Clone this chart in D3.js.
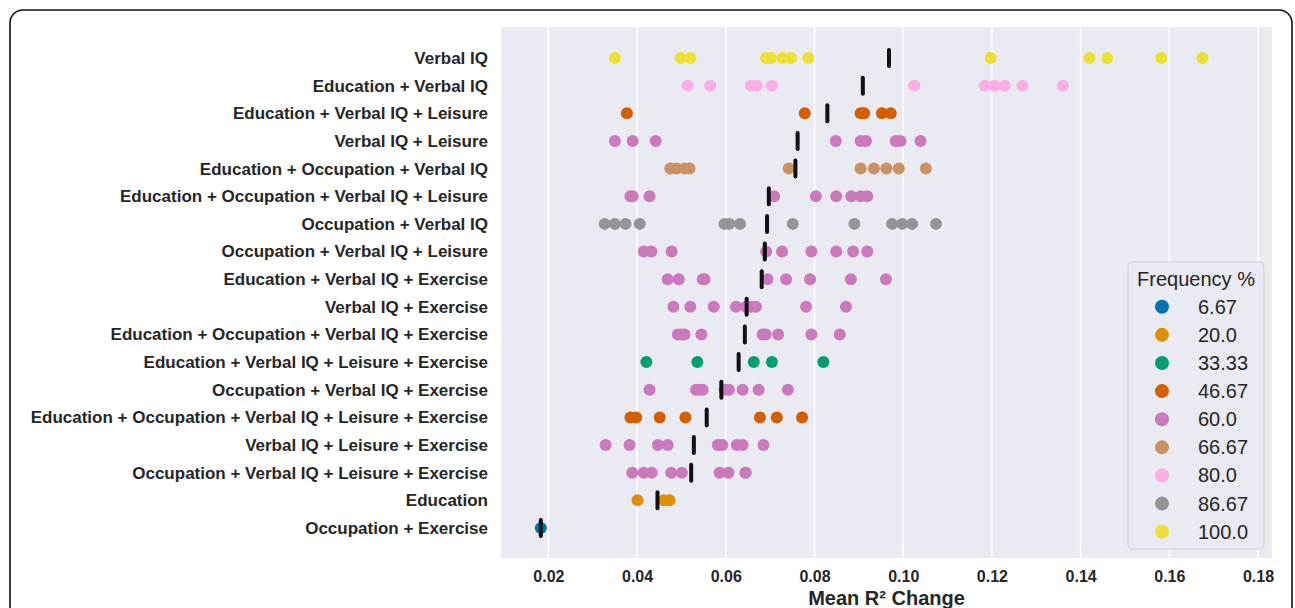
<!DOCTYPE html>
<html><head><meta charset="utf-8">
<script src="https://cdn.jsdelivr.net/npm/d3@7"></script>
<style>body{margin:0;background:#fff}svg{display:block}text{font-family:"Liberation Sans",Arial,sans-serif}</style>
</head><body><svg id="c" width="1295" height="608"></svg>
<script>
const categories = ["Verbal IQ","Education + Verbal IQ","Education + Verbal IQ + Leisure","Verbal IQ + Leisure","Education + Occupation + Verbal IQ","Education + Occupation + Verbal IQ + Leisure","Occupation + Verbal IQ","Occupation + Verbal IQ + Leisure","Education + Verbal IQ + Exercise","Verbal IQ + Exercise","Education + Occupation + Verbal IQ + Exercise","Education + Verbal IQ + Leisure + Exercise","Occupation + Verbal IQ + Exercise","Education + Occupation + Verbal IQ + Leisure + Exercise","Verbal IQ + Leisure + Exercise","Occupation + Verbal IQ + Leisure + Exercise","Education","Occupation + Exercise"];
const frequency = ["100.0","80.0","46.67","60.0","66.67","60.0","86.67","60.0","60.0","60.0","60.0","33.33","60.0","46.67","60.0","60.0","20.0","6.67"];
const values = [
 [0.0350,0.0498,0.0520,0.0691,0.0702,0.0728,0.0747,0.0786,0.1197,0.1420,0.1460,0.1582,0.1675],
 [0.0514,0.0565,0.0657,0.0670,0.0704,0.1025,0.1184,0.1206,0.1229,0.1269,0.1360],
 [0.0377,0.0778,0.0904,0.0908,0.0912,0.0952,0.0972],
 [0.0350,0.0390,0.0442,0.0848,0.0904,0.0916,0.0983,0.0994,0.1039],
 [0.0475,0.0489,0.0507,0.0518,0.0742,0.0904,0.0934,0.0962,0.0990,0.1051],
 [0.0385,0.0390,0.0428,0.0709,0.0803,0.0849,0.0883,0.0904,0.0919],
 [0.0327,0.0350,0.0374,0.0406,0.0597,0.0608,0.0632,0.0751,0.0890,0.0975,0.0998,0.1020,0.1074],
 [0.0415,0.0432,0.0478,0.0691,0.0727,0.0793,0.0849,0.0887,0.0919],
 [0.0469,0.0494,0.0548,0.0552,0.0694,0.0736,0.0790,0.0882,0.0961],
 [0.0482,0.0520,0.0573,0.0623,0.0646,0.0657,0.0668,0.0781,0.0871],
 [0.0492,0.0500,0.0507,0.0545,0.0683,0.0690,0.0718,0.0793,0.0857],
 [0.0421,0.0536,0.0663,0.0704,0.0820],
 [0.0428,0.0533,0.0540,0.0548,0.0597,0.0607,0.0638,0.0674,0.0740],
 [0.0385,0.0398,0.0451,0.0509,0.0677,0.0715,0.0772],
 [0.0329,0.0383,0.0447,0.0469,0.0582,0.0592,0.0625,0.0638,0.0685],
 [0.0389,0.0415,0.0433,0.0477,0.0501,0.0586,0.0606,0.0644,0.0645],
 [0.0401,0.0460,0.0473],
 [0.0183]
];
const means = [0.0968,0.0909,0.0829,0.0762,0.0757,0.0697,0.0693,0.0688,0.0681,0.0647,0.0643,0.0629,0.0590,0.0557,0.0528,0.0522,0.0446,0.0183];
const legendLabels = ["6.67","20.0","33.33","46.67","60.0","66.67","80.0","86.67","100.0"];
const legendColors = ["#0173b2","#de8f05","#029e73","#d55e00","#cc78bc","#ca9161","#fbafe4","#949494","#ece133"];
const xTicks = [0.02,0.04,0.06,0.08,0.10,0.12,0.14,0.16,0.18];

const svg = d3.select("#c");
const L=501, R=1272, T=27, B=558;
svg.append("rect").attr("x",10).attr("y",10).attr("width",1282).attr("height",640).attr("rx",13)
  .attr("fill","#fff").attr("stroke","#111").attr("stroke-width",1.6);
svg.append("rect").attr("x",L).attr("y",T).attr("width",R-L).attr("height",B-T).attr("fill","#eaeaf2");

const x = d3.scaleLinear().domain([0.00932,0.18315]).range([L,R]);
const y = d3.scalePoint().domain(categories).range([T+31,B-30]);
const color = d3.scaleOrdinal().domain(legendLabels).range(legendColors);

svg.append("g").selectAll("line").data(xTicks).join("line")
  .attr("x1",d=>x(d)).attr("x2",d=>x(d)).attr("y1",T).attr("y2",B)
  .attr("stroke","#fff").attr("stroke-width",1.6);

const xa = svg.append("g").attr("transform",`translate(0,${B})`)
  .call(d3.axisBottom(x).tickValues(xTicks).tickFormat(d3.format(".2f")).tickSize(0).tickPadding(13));
xa.select(".domain").remove();
xa.selectAll("text").attr("font-size",16).attr("font-weight","bold").attr("fill","#262626")
  .style("font-family",'"Liberation Sans",Arial,sans-serif');

const ya = svg.append("g").attr("transform",`translate(${L},0)`)
  .call(d3.axisLeft(y).tickSize(0).tickPadding(13));
ya.select(".domain").remove();
ya.selectAll("text").attr("font-size",17).attr("font-weight","bold").attr("fill","#262626")
  .style("font-family",'"Liberation Sans",Arial,sans-serif');

svg.append("text").attr("x",(L+R)/2).attr("y",605).attr("text-anchor","middle")
  .attr("font-size",20).attr("font-weight","bold").attr("fill","#262626").text("Mean R² Change");

const pts = [];
categories.forEach((c,i)=>values[i].forEach(v=>pts.push({c,v,f:frequency[i]})));
svg.append("g").selectAll("circle").data(pts).join("circle")
  .attr("cx",d=>x(d.v)).attr("cy",d=>y(d.c)).attr("r",6)
  .attr("fill",d=>color(d.f));

svg.append("g").selectAll("line").data(categories).join("line")
  .attr("x1",(d,i)=>x(means[i])).attr("x2",(d,i)=>x(means[i]))
  .attr("y1",d=>y(d)-8).attr("y2",d=>y(d)+8)
  .attr("stroke","#111").attr("stroke-width",4).attr("stroke-linecap","round");

const lg = svg.append("g");
lg.append("rect").attr("x",1128).attr("y",262).attr("width",136).attr("height",287).attr("rx",4)
  .attr("fill","#eaeaf2").attr("stroke","#cfcfd6").attr("stroke-width",1);
lg.append("text").attr("x",1196).attr("y",286).attr("text-anchor","middle")
  .attr("font-size",20).attr("fill","#262626").text("Frequency %");
const ly = d3.scalePoint().domain(legendLabels).range([306.7,531.7]);
lg.selectAll("circle").data(legendLabels).join("circle")
  .attr("cx",1162).attr("cy",d=>ly(d)).attr("r",7).attr("fill",d=>color(d));
lg.selectAll("text.l").data(legendLabels).join("text").attr("class","l")
  .attr("x",1198).attr("y",d=>ly(d)+7).attr("font-size",20).attr("fill","#262626").text(d=>d);
</script></body></html>
